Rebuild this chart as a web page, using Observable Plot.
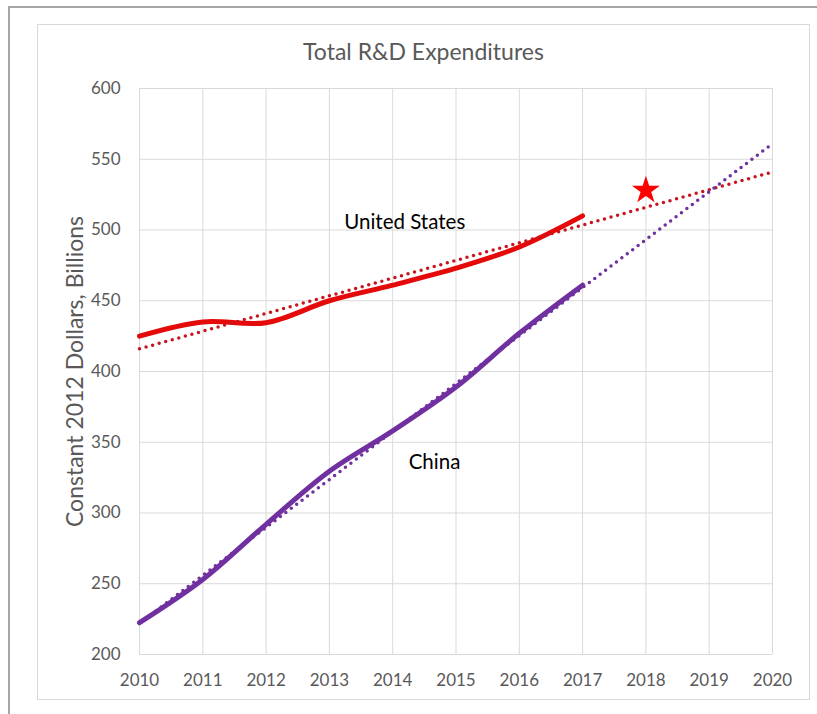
<!DOCTYPE html>
<html>
<head>
<meta charset="utf-8">
<script src="https://cdn.jsdelivr.net/npm/d3@7"></script>
<script src="https://cdn.jsdelivr.net/npm/@observablehq/plot@0.6"></script>
<style>
  html, body { margin: 0; padding: 0; background: #fff; }
  #wrap { position: relative; width: 817px; height: 714px; overflow: hidden; font-family: Lato, "Open Sans", sans-serif; }
  #outer { position: absolute; left: 8px; top: 6px; width: 900px; height: 900px; border-left: 2px solid #a6a6a6; border-top: 2px solid #a6a6a6; }
  #inner { position: absolute; left: 37px; top: 24px; width: 771px; height: 674px; border: 1px solid #d9d9d9; }
  #title { position: absolute; left: 37px; width: 773px; top: 37px; text-align: center; font-size: 23px; color: #595959; line-height: 28px; }
  #chart { position: absolute; left: 0; top: 0; }
</style>
</head>
<body>
<div id="wrap">
  <div id="outer"></div>
  <div id="inner"></div>
  <div id="title">Total R&amp;D Expenditures</div>
  <div id="chart"></div>
</div>
<script>
// Data
const years = [2010, 2011, 2012, 2013, 2014, 2015, 2016, 2017];
const usValues = [425, 435, 434.5, 450, 461, 473, 488, 510];
const chinaValues = [222.5, 253, 292, 329.5, 358, 389, 427, 461];
const trendYears = [2010, 2020];
const usTrend = [416, 541];
const chinaTrend = [222, 561];
const starYear = [2018];
const starValue = [528];
const xTicks = [2010, 2011, 2012, 2013, 2014, 2015, 2016, 2017, 2018, 2019, 2020];
const yTicks = [200, 250, 300, 350, 400, 450, 500, 550, 600];
const labelTexts = ["United States", "China"];
const labelYears = [2014.19, 2014.66];
const labelValues = [505, 336];
const yAxisLabel = "Constant 2012 Dollars, Billions";

const usData = years.map((y, i) => ({year: y, value: usValues[i]}));
const chinaData = years.map((y, i) => ({year: y, value: chinaValues[i]}));
const usTrendData = trendYears.map((y, i) => ({year: y, value: usTrend[i]}));
const chinaTrendData = trendYears.map((y, i) => ({year: y, value: chinaTrend[i]}));
const starData = starYear.map((y, i) => ({year: y, value: starValue[i]}));
const labelData = labelTexts.map((t, i) => ({text: t, year: labelYears[i], value: labelValues[i]}));

const usColor = "#e50a0a";
const usTrendColor = "#c8141c";
const chinaColor = "#7030a0";

const chart = Plot.plot({
  width: 817,
  height: 714,
  marginLeft: 139,
  marginRight: 45,
  marginTop: 88,
  marginBottom: 60,
  style: {background: "transparent", fontFamily: "Lato, 'Open Sans', sans-serif", overflow: "visible"},
  x: {domain: [2010, 2020], ticks: xTicks, tickFormat: d => String(d)},
  y: {domain: [200, 600], ticks: yTicks},
  marks: [
    Plot.gridX(xTicks, {stroke: "#d9d9d9", strokeOpacity: 1, strokeWidth: 1}),
    Plot.gridY(yTicks, {stroke: "#d9d9d9", strokeOpacity: 1, strokeWidth: 1}),
    Plot.axisX({ticks: xTicks, tickFormat: d => String(d), tickSize: 0, tickPadding: 19, fontSize: 17, fill: "#595959", label: null}),
    Plot.axisY({ticks: yTicks, tickSize: 0, tickPadding: 19, fontSize: 17, fill: "#595959", label: null}),
    Plot.text([yAxisLabel], {frameAnchor: "left", text: d => d, rotate: -90, dx: -64, textAnchor: "middle", fontSize: 23, fill: "#595959"}),
    Plot.line(usData, {x: "year", y: "value", stroke: usColor, strokeWidth: 5, curve: "catmull-rom"}),
    Plot.line(chinaData, {x: "year", y: "value", stroke: chinaColor, strokeWidth: 5, curve: "catmull-rom"}),
    Plot.line(usTrendData, {x: "year", y: "value", stroke: usTrendColor, strokeWidth: 3.5, strokeDasharray: "0 6.8", strokeLinecap: "round"}),
    Plot.line(chinaTrendData, {x: "year", y: "value", stroke: chinaColor, strokeWidth: 3.5, strokeDasharray: "0 6.8", strokeLinecap: "round"}),
    Plot.dot(starData, {x: "year", y: "value", symbol: "star", r: 8.8, fill: "#ff0000", stroke: "none"}),
    Plot.text(labelData, {x: "year", y: "value", text: "text", fontSize: 20.5, fill: "#000"})
  ]
});
document.getElementById("chart").appendChild(chart);
</script>
</body>
</html>
